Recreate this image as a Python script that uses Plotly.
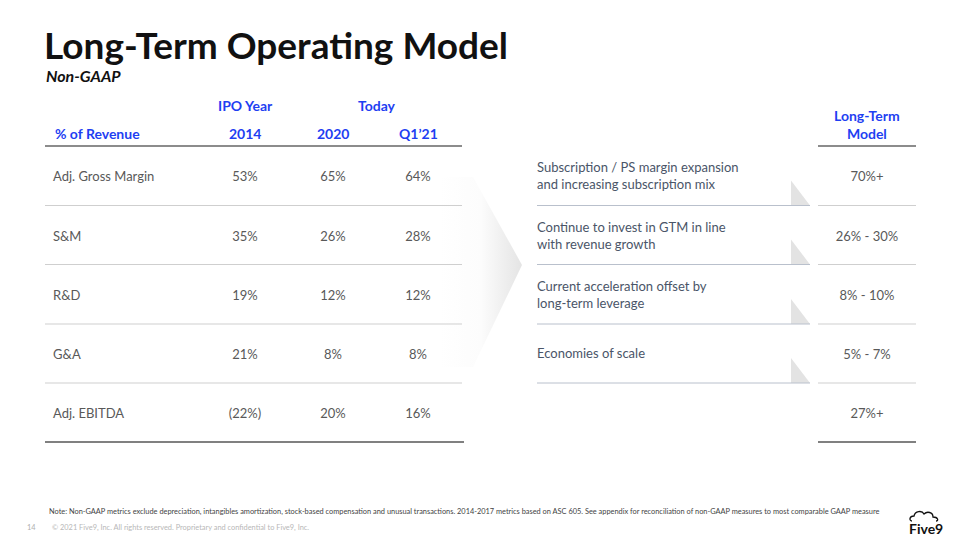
import plotly.graph_objects as go

# ---- data ----
metrics = ["Adj. Gross Margin", "S&M", "R&D", "G&A", "Adj. EBITDA"]
ipo_2014 = [53, 35, 19, 21, -22]
today_2020 = [65, 26, 12, 8, 20]
q1_2021 = [64, 28, 12, 8, 16]
drivers = [
    "Subscription / PS margin expansion<br>and increasing subscription mix",
    "Continue to invest in GTM in line<br>with revenue growth",
    "Current acceleration offset by<br>long-term leverage",
    "Economies of scale",
    "",
]
long_term_model = ["70%+", "26% - 30%", "8% - 10%", "5% - 7%", "27%+"]
col_headers = ["2014", "2020", "Q1\u201921"]
group_headers = ["IPO Year", "Today"]

title = "Long-Term Operating Model"
subtitle = "Non-GAAP"
note = ("Note: Non-GAAP metrics exclude depreciation, intangibles amortization, stock-based compensation and unusual "
        "transactions. 2014-2017 metrics based on ASC 605. See appendix for reconciliation of non-GAAP measures to most "
        "comparable GAAP measure")
copyright_txt = "\u00a9 2021 Five9, Inc. All rights reserved. Proprietary and confidential to Five9, Inc."
page_no = "14"


def fmt(v):
    return f"({abs(v)}%)" if v < 0 else f"{v}%"


# ---- styles / layout ----
FONT = "Lato"
BLUE = "#1f3ff2"
GRAY = "#595959"
DRV = "#4a5568"
row_y = [178, 238, 297, 356, 415]
sep_y = [205.5, 264.5, 324, 383]
col_x = [245, 333, 418]
lt_x = 867

fig = go.Figure()

# chevron arrow (gradient)
fig.add_trace(go.Scatter(
    x=[440, 473, 522, 473, 440, 440], y=[177, 177, 265, 367, 367, 177],
    mode="lines", line=dict(width=0), fill="toself",
    fillgradient=dict(type="horizontal", colorscale=[[0, "rgba(255,255,255,1)"], [0.5, "rgba(252,252,252,1)"], [1, "rgba(228,228,228,1)"]]),
    hoverinfo="skip", showlegend=False))

# small triangles near separators
for i in range(4):
    yb = sep_y[i]
    fig.add_trace(go.Scatter(
        x=[791, 791, 810, 791], y=[yb - 25, yb, yb, yb - 25], mode="lines",
        line=dict(width=0), fill="toself", fillcolor="#e3e3e3",
        hoverinfo="skip", showlegend=False))

# metric labels
fig.add_trace(go.Scatter(x=[53] * len(metrics), y=row_y, text=metrics, mode="text",
                         textposition="middle right",
                         textfont=dict(family=FONT, size=13, color=GRAY),
                         hoverinfo="skip", showlegend=False))
# values
for cx, series in zip(col_x, [ipo_2014, today_2020, q1_2021]):
    fig.add_trace(go.Scatter(x=[cx] * len(series), y=row_y, text=[fmt(v) for v in series],
                             mode="text", textposition="middle center",
                             textfont=dict(family=FONT, size=13, color=GRAY),
                             hoverinfo="skip", showlegend=False))
# drivers
fig.add_trace(go.Scatter(x=[537] * len(drivers), y=[y - 1 for y in row_y], text=drivers, mode="text",
                         textposition="middle right",
                         textfont=dict(family=FONT, size=13, color=DRV),
                         hoverinfo="skip", showlegend=False))
# long-term model
fig.add_trace(go.Scatter(x=[lt_x] * len(long_term_model), y=row_y, text=long_term_model, mode="text",
                         textposition="middle center",
                         textfont=dict(family=FONT, size=13, color=GRAY),
                         hoverinfo="skip", showlegend=False))

annotations = []


def ann(x, y, text, size, color, bold=False, italic=False, xanchor="left", family=FONT, yanchor="middle"):
    t = text
    if bold:
        t = f"<b>{t}</b>"
    if italic:
        t = f"<i>{t}</i>"
    annotations.append(dict(x=x, y=y, xref="x", yref="y", text=t, showarrow=False,
                            xanchor=xanchor, yanchor=yanchor,
                            font=dict(family=family, size=size, color=color)))


ann(42, 44, title, 37, "#111111", bold=True)
ann(44, 75, subtitle, 16, "#111111", bold=True, italic=True)
ann(245, 105, group_headers[0], 14, BLUE, bold=True, xanchor="center")
ann(377, 105, group_headers[1], 14, BLUE, bold=True, xanchor="center")
ann(53, 133, "% of Revenue", 14, BLUE, bold=True)
for cx, h in zip(col_x, col_headers):
    ann(cx, 133, h, 14, BLUE, bold=True, xanchor="center")
ann(lt_x, 124, "Long-Term<br>Model", 14, BLUE, bold=True, xanchor="center")
ann(47, 511, note, 7.4, "#444444")
ann(25, 527, page_no, 7.4, "#b0b0b0")
ann(50, 527, copyright_txt, 7.4, "#b8b8b8")
ann(926, 528, "<b>Five9</b>", 14, "#111111", xanchor="center")

shapes = []
# left table lines
shapes.append(dict(type="line", x0=45, x1=462, y0=146, y1=146, line=dict(color="#8c8c8c", width=2)))
for y in sep_y:
    shapes.append(dict(type="line", x0=45, x1=462, y0=y, y1=y, line=dict(color="#cfcfcf", width=1)))
shapes.append(dict(type="line", x0=45, x1=464, y0=442, y1=442, line=dict(color="#808080", width=2)))
# drivers separators
for y in sep_y:
    shapes.append(dict(type="line", x0=537, x1=810, y0=y, y1=y, line=dict(color="#b9c0cc", width=1)))
# long-term column lines
shapes.append(dict(type="line", x0=818, x1=916, y0=146, y1=146, line=dict(color="#8c8c8c", width=2)))
for y in sep_y:
    shapes.append(dict(type="line", x0=818, x1=916, y0=y, y1=y, line=dict(color="#cfcfcf", width=1)))
shapes.append(dict(type="line", x0=818, x1=916, y0=442, y1=442, line=dict(color="#808080", width=2)))
# logo cloud
shapes.append(dict(type="path",
                   path="M 912 521 C 909 521 909 516 914 516 C 915 511 922 510 924 514 C 927 511 933 512 933 517 C 938 517 939 521 936 521",
                   line=dict(color="#111111", width=1.3)))

fig.update_layout(
    width=960, height=540, margin=dict(l=0, r=0, t=0, b=0),
    paper_bgcolor="white", plot_bgcolor="white",
    xaxis=dict(range=[0, 960], visible=False, fixedrange=True),
    yaxis=dict(range=[540, 0], visible=False, fixedrange=True),
    annotations=annotations, shapes=shapes,
)

fig.write_html("out.html", config={"displayModeBar": False},
               post_script="document.body.style.margin='0';document.body.style.overflow='hidden';")
